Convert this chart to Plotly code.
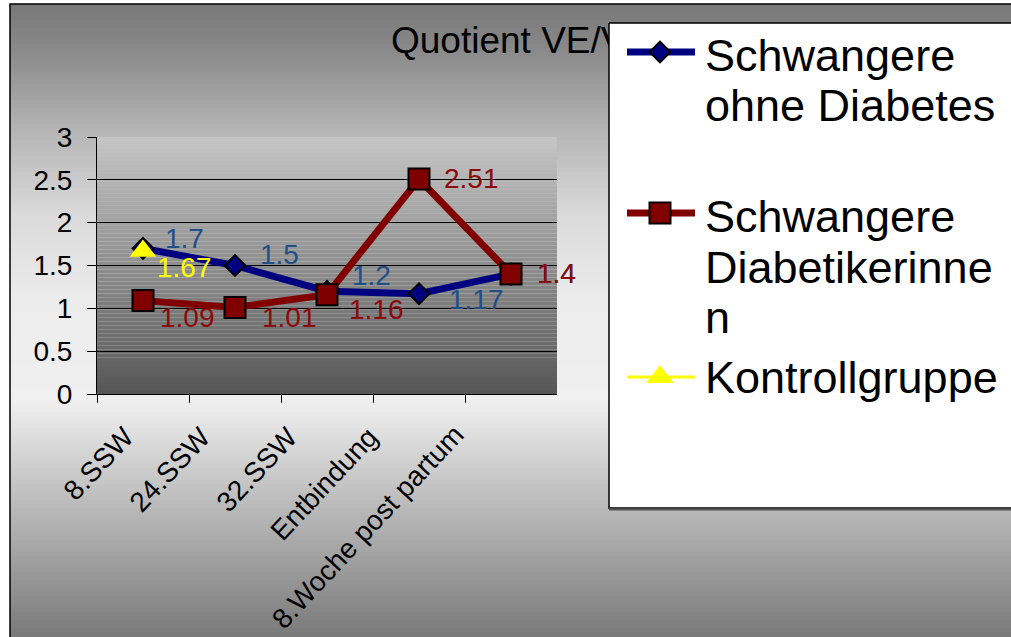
import plotly.graph_objects as go

# ---- data -------------------------------------------------------------
categories = ["8.SSW", "24.SSW", "32.SSW", "Entbindung", "8.Woche post partum"]
ohne_diabetes = [1.7, 1.5, 1.2, 1.17, 1.4]
diabetikerinnen = [1.09, 1.01, 1.16, 2.51, 1.4]
kontrollgruppe = [1.67, None, None, None, None]

y_tick_values = [0, 0.5, 1, 1.5, 2, 2.5, 3]
y_tick_labels = ["0", "0.5", "1", "1.5", "2", "2.5", "3"]

title_text = "Quotient VE/V"
legend_lines = {
    "ohne": ["Schwangere", "ohne Diabetes"],
    "dia": ["Schwangere", "Diabetikerinne", "n"],
    "kontroll": ["Kontrollgruppe"],
}

# ---- style ------------------------------------------------------------
W, H = 1011, 637
FONT = "Liberation Sans, Arial, sans-serif"
BLUE, RED, YELLOW = "#000080", "#800000", "#FFFF00"
BLUE_TXT, RED_TXT = "#1F4E89", "#8B0A0A"

# label offsets (px) relative to each point
blue_off = [(20, 10), (23, 11), (23, 16), (28, -6), (24, 1)]
red_off = [(15, -17), (25, -10), (20, -15), (23, 0), (24, 1)]
yellow_off = [(12, -17)]

# rotated category labels: shift of each label's rotated box corner
cat_label_shift = [(0, -24), (-16, -24), (-21, -24), (-32, -24), (-38, -22)]

# plot-area placement in pixels
PX0, PX1, PY0, PY1 = 97, 557, 137, 394


def gray(v):
    v = int(round(max(0, min(255, v))))
    return f"rgb({v},{v},{v})"


def lerp_stops(stops, y):
    for (ya, va), (yb, vb) in zip(stops, stops[1:]):
        if ya <= y <= yb:
            return va + (vb - va) * (y - ya) / (yb - ya)
    return stops[-1][1]


shapes = []
# chart-area background: dark at the top, light band, dark at the bottom
paper_stops = [(4, 120), (45, 135), (125, 178), (215, 218), (300, 236),
               (400, 240), (480, 199), (560, 160), (640, 120)]
step = 4
for y in range(4, H, step):
    c = gray(lerp_stops(paper_stops, y + step / 2))
    shapes.append(dict(type="rect", xref="paper", yref="paper", layer="below",
                       x0=10 / W, x1=1.02, y0=1 - (y + step) / H, y1=1 - y / H,
                       fillcolor=c, line=dict(width=0)))
# chart-area border
shapes.append(dict(type="rect", xref="paper", yref="paper", layer="below",
                   x0=10 / W, x1=1.02, y0=-0.02, y1=1 - 4 / H,
                   fillcolor="rgba(0,0,0,0)", line=dict(color="black", width=1.5)))

# plot-area background: light grey at the top to dark grey at the bottom
n_strips = 64
for i in range(n_strips):
    y0 = 3 * i / n_strips
    y1 = 3 * (i + 1) / n_strips
    t = (i + 0.5) / n_strips
    c = gray(86 + (198 - 86) * t)
    shapes.append(dict(type="rect", xref="x", yref="y", layer="below",
                       x0=-0.5, x1=4.5, y0=y0, y1=y1,
                       fillcolor=c, line=dict(width=0)))

fig = go.Figure()

# ---- series -----------------------------------------------------------
fig.add_trace(go.Scatter(
    x=categories, y=ohne_diabetes, mode="lines+markers", name="Schwangere ohne Diabetes",
    line=dict(color=BLUE, width=7),
    marker=dict(symbol="diamond", size=16, color=BLUE, line=dict(color="black", width=2)),
    xaxis="x", yaxis="y", showlegend=False, cliponaxis=False))
fig.add_trace(go.Scatter(
    x=categories, y=diabetikerinnen, mode="lines+markers", name="Schwangere Diabetikerinnen",
    line=dict(color=RED, width=7),
    marker=dict(symbol="square", size=21, color=RED, line=dict(color="black", width=2)),
    xaxis="x", yaxis="y", showlegend=False, cliponaxis=False))
fig.add_trace(go.Scatter(
    x=categories, y=kontrollgruppe, mode="lines+markers", name="Kontrollgruppe",
    line=dict(color=YELLOW, width=2),
    marker=dict(symbol="triangle-up", size=23, color=YELLOW, line=dict(width=0)),
    xaxis="x", yaxis="y", showlegend=False, cliponaxis=False))

# ---- overlay in pixel coordinates: title, legend box and keys ----------
fig.add_trace(go.Scatter(
    x=[391], y=[44], mode="text", text=[title_text], textposition="middle right",
    textfont=dict(family=FONT, size=37, color="black"),
    xaxis="x2", yaxis="y2", showlegend=False, hoverinfo="skip"))
fig.add_trace(go.Scatter(
    x=[609, 1040, 1040, 609, 609], y=[23, 23, 508, 508, 23], mode="lines",
    fill="toself", fillcolor="white", line=dict(color="black", width=1.5),
    xaxis="x2", yaxis="y2", showlegend=False, hoverinfo="skip"))
fig.add_trace(go.Scatter(
    x=[609, 1040], y=[509.5, 509.5], mode="lines",
    line=dict(color="#555555", width=2),
    xaxis="x2", yaxis="y2", showlegend=False, hoverinfo="skip"))

legend_keys = [
    (52, BLUE, 7, "diamond", 16, BLUE, 2),
    (213, RED, 7, "square", 21, RED, 2),
    (377, YELLOW, 3, "triangle-up", 24, YELLOW, 0),
]
for ky, lc, lw, sym, ms, mc, mlw in legend_keys:
    fig.add_trace(go.Scatter(
        x=[627, 695], y=[ky, ky], mode="lines", line=dict(color=lc, width=lw),
        xaxis="x2", yaxis="y2", showlegend=False, hoverinfo="skip"))
    fig.add_trace(go.Scatter(
        x=[660], y=[ky], mode="markers",
        marker=dict(symbol=sym, size=ms, color=mc, line=dict(color="black", width=mlw)),
        xaxis="x2", yaxis="y2", showlegend=False, hoverinfo="skip"))

annotations = []
legend_text_y = {"ohne": [55, 105], "dia": [216, 267, 317], "kontroll": [377]}
for key, lines in legend_lines.items():
    for line, ly in zip(lines, legend_text_y[key]):
        annotations.append(dict(
            x=703, y=ly, xref="x2", yref="y2", text=line, showarrow=False,
            xanchor="left", yanchor="middle",
            font=dict(family=FONT, size=45, color="black")))

# ---- category labels under the x axis -----------------------------------
for cat, (dx, dy) in zip(categories, cat_label_shift):
    annotations.append(dict(
        x=cat, y=0, xref="x", yref="y", text=cat, showarrow=False,
        textangle=-47, xanchor="right", yanchor="top", xshift=dx, yshift=dy,
        font=dict(family=FONT, size=28, color="black")))

# ---- data labels --------------------------------------------------------
def add_labels(values, offsets, color):
    for cat, v, (dx, dy) in zip(categories, values, offsets):
        if v is None:
            continue
        annotations.append(dict(
            x=cat, y=v, xref="x", yref="y", text=f"{v:g}", showarrow=False,
            xanchor="left", yanchor="middle", xshift=dx, yshift=dy,
            font=dict(family=FONT, size=28, color=color)))


add_labels(ohne_diabetes, blue_off, BLUE_TXT)
add_labels(diabetikerinnen, red_off, RED_TXT)
add_labels(kontrollgruppe, yellow_off, YELLOW)

fig.update_layout(
    width=W, height=H, autosize=False,
    margin=dict(l=0, r=0, t=0, b=0, pad=0, autoexpand=False),
    paper_bgcolor="white", plot_bgcolor="rgba(0,0,0,0)",
    font=dict(family=FONT, color="black"),
    showlegend=False,
    shapes=shapes, annotations=annotations,
    xaxis=dict(
        domain=[PX0 / W, PX1 / W], type="category", range=[-0.5, 4.5],
        tickson="boundaries", ticks="outside", ticklen=8, tickcolor="black",
        showline=True, linecolor="black", linewidth=1, showgrid=False,
        showticklabels=False, automargin=False, fixedrange=True),
    yaxis=dict(
        domain=[1 - PY1 / H, 1 - PY0 / H], range=[0, 3],
        tickvals=y_tick_values, ticktext=y_tick_labels,
        ticks="outside", ticklen=9, tickcolor="black", ticklabelstandoff=9,
        showline=True, linecolor="black", linewidth=1,
        showgrid=True, gridcolor="black", gridwidth=1, zeroline=False,
        tickfont=dict(family=FONT, size=28, color="black"),
        automargin=False, fixedrange=True),
    xaxis2=dict(domain=[0, 1], range=[0, W], visible=False, fixedrange=True,
                anchor="y2", automargin=False),
    yaxis2=dict(domain=[0, 1], range=[H, 0], visible=False, fixedrange=True,
                anchor="x2", automargin=False),
)

fig.write_html("out.html", config={"displayModeBar": False})
